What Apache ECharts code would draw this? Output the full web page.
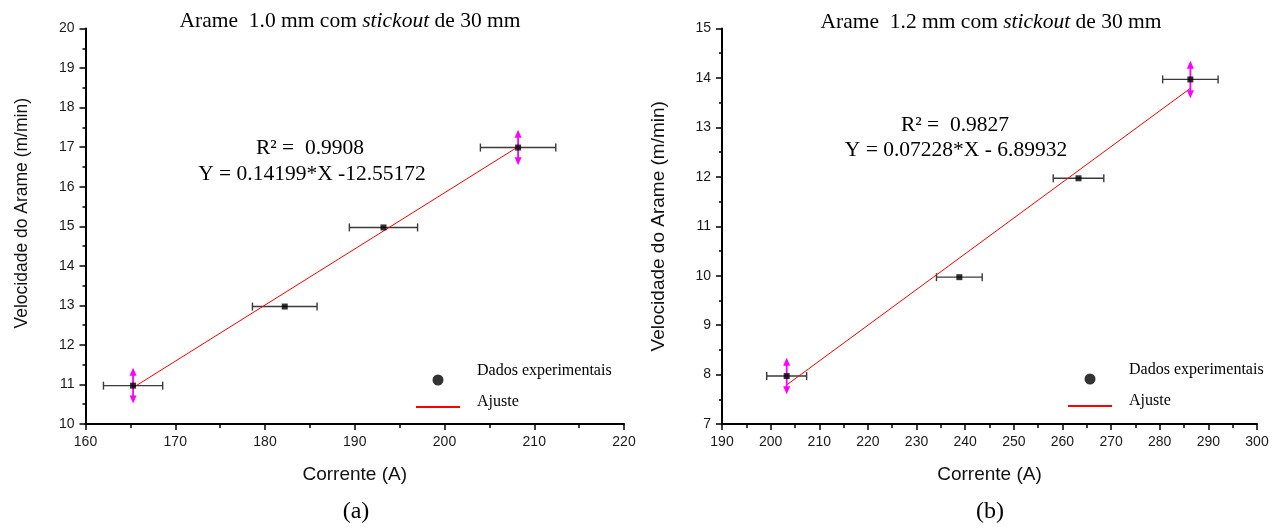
<!DOCTYPE html>
<html><head><meta charset="utf-8">
<script src="https://cdn.jsdelivr.net/npm/echarts@6/dist/echarts.min.js"></script>
<style>html,body{margin:0;padding:0;background:#fff}#c{width:1284px;height:529px}</style>
</head><body><div id="c"></div>
<script>
// ---- Chart (a): Arame 1.0 mm ----
const currentA = [165.3, 182.2, 193.2, 208.2];
const speedA = [10.97, 12.97, 14.97, 16.99];
const currentErrA = [3.3, 3.6, 3.8, 4.2];
const arrowIdxA = [0, 3];
const speedErrA = [0.45, 0.45];
const fitXA = [165.3, 208.2];
const fitYA = [10.92, 17.01];
const xRangeA = [160, 220];
const yRangeA = [10, 20];

// ---- Chart (b): Arame 1.2 mm ----
const currentB = [203.3, 238.8, 263.3, 286.3];
const speedB = [7.97, 9.97, 11.97, 13.97];
const currentErrB = [4.1, 4.7, 5.2, 5.7];
const arrowIdxB = [0, 3];
const speedErrB = [0.37, 0.38];
const fitXB = [203.3, 286.3];
const fitYB = [7.79, 13.79];
const xRangeB = [190, 300];
const yRangeB = [7, 15];

const titleA = ['Arame  1.0 mm com ', 'stickout', ' de 30 mm'];
const titleB = ['Arame  1.2 mm com ', 'stickout', ' de 30 mm'];
const eqA = ['R\u00b2 =  0.9908', 'Y = 0.14199*X -12.55172'];
const eqB = ['R\u00b2 =  0.9827', 'Y = 0.07228*X - 6.89932'];
const captions = ['(a)', '(b)'];
const legendNames = ['Dados experimentais', 'Ajuste'];
const xName = 'Corrente (A)';
const yName = 'Velocidade do Arame (m/min)';

const SERIF = 'Liberation Serif';
const SANS = 'Liberation Sans';

function xErrRender(params, api) {
  const x = api.value(0), y = api.value(1), e = api.value(2);
  const p1 = api.coord([x - e, y]), p2 = api.coord([x + e, y]);
  const st = { stroke: '#3a3a3a', lineWidth: 1.4 };
  return { type: 'group', children: [
    { type: 'line', shape: { x1: p1[0], y1: p1[1], x2: p2[0], y2: p2[1] }, style: st },
    { type: 'line', shape: { x1: p1[0], y1: p1[1] - 4, x2: p1[0], y2: p1[1] + 4 }, style: st },
    { type: 'line', shape: { x1: p2[0], y1: p2[1] - 4, x2: p2[0], y2: p2[1] + 4 }, style: st }
  ]};
}
function yArrowRender(params, api) {
  const x = api.value(0), y = api.value(1), e = api.value(2);
  const t = api.coord([x, y + e]), b = api.coord([x, y - e]);
  const c = '#ff00ff';
  return { type: 'group', children: [
    { type: 'line', shape: { x1: t[0], y1: t[1] + 3, x2: b[0], y2: b[1] - 3 }, style: { stroke: c, lineWidth: 1.8 } },
    { type: 'polygon', shape: { points: [[t[0], t[1]], [t[0] - 3.5, t[1] + 8], [t[0] + 3.5, t[1] + 8]] }, style: { fill: c } },
    { type: 'polygon', shape: { points: [[b[0], b[1]], [b[0] - 3.5, b[1] - 8], [b[0] + 3.5, b[1] - 8]] }, style: { fill: c } }
  ]};
}

function xAxisCfg(idx, r) {
  return {
    type: 'value', gridIndex: idx, min: r[0], max: r[1], interval: 10,
    name: xName, nameLocation: 'middle', nameGap: 41,
    nameTextStyle: { fontFamily: SANS, fontSize: 19, color: '#111' },
    axisLine: { lineStyle: { color: '#000', width: 2 } },
    axisTick: { length: 6, lineStyle: { color: '#000', width: 1.5 } },
    minorTick: { show: true, splitNumber: 2, length: 4, lineStyle: { color: '#000', width: 1.5 } },
    splitLine: { show: false },
    axisLabel: { fontFamily: SANS, fontSize: 14, color: '#1a1a1a', margin: 11 }
  };
}
function yAxisCfg(idx, r, nameSize, namePad) {
  return {
    type: 'value', gridIndex: idx, min: r[0], max: r[1], interval: 1,
    name: yName, nameLocation: 'middle', nameGap: 54, nameRotate: 90,
    nameTextStyle: { fontFamily: SANS, fontSize: nameSize, color: '#111', padding: namePad },
    axisLine: { show: true, lineStyle: { color: '#000', width: 2 } },
    axisTick: { show: true, length: 6, lineStyle: { color: '#000', width: 1.5 } },
    minorTick: { show: true, splitNumber: 2, length: 3, lineStyle: { color: '#000', width: 1.5 } },
    splitLine: { show: false },
    axisLabel: { fontFamily: SANS, fontSize: 14, color: '#1a1a1a', margin: 11 }
  };
}

function seriesFor(idx, xs, ys, xe, aIdx, ye, fx, fy) {
  return [
    { type: 'custom', xAxisIndex: idx, yAxisIndex: idx, renderItem: xErrRender, silent: true,
      data: xs.map((x, i) => [x, ys[i], xe[i]]), z: 2 },
    { type: 'line', name: legendNames[1], xAxisIndex: idx, yAxisIndex: idx, showSymbol: false, symbol: 'none',
      lineStyle: { color: '#ff0000', width: 1 }, itemStyle: { color: '#ff0000' },
      data: fx.map((x, i) => [x, fy[i]]), z: 3 },
    { type: 'custom', xAxisIndex: idx, yAxisIndex: idx, renderItem: yArrowRender, silent: true,
      data: aIdx.map((k, i) => [xs[k], ys[k], ye[i]]), z: 4 },
    { type: 'scatter', name: legendNames[0], xAxisIndex: idx, yAxisIndex: idx, symbol: 'rect', symbolSize: 6,
      itemStyle: { color: '#000' }, data: xs.map((x, i) => [x, ys[i]]), z: 5 }
  ];
}

function legendCfg(left, top) {
  return {
    left: left, top: top, orient: 'vertical', padding: 0, itemGap: -3,
    itemWidth: 44, itemHeight: 11, selectedMode: false,
    formatter: function (name) { return name === legendNames[0] ? name + '\n{s1| }' : name + '\n{s2| }'; },
    textStyle: { fontFamily: SERIF, fontSize: 16, color: '#000', lineHeight: 16, padding: [0, 0, 0, 12],
      rich: { s1: { fontSize: 4, lineHeight: 18 }, s2: { fontSize: 4, lineHeight: 10 } } },
    data: [
      { name: legendNames[0], icon: 'circle', itemStyle: { color: '#000' } },
      { name: legendNames[1], icon: 'path://M0,0L44,0L44,2L0,2Z' }
    ]
  };
}

function txt(x, y, text, size, rich) {
  const o = { type: 'text', x: x, y: y, style: { text: text, align: 'center', verticalAlign: 'middle',
    fontFamily: SERIF, fontSize: size, fill: '#000' } };
  if (rich) o.style.rich = rich;
  return o;
}
const titleRich = {
  n: { fontFamily: SERIF, fontSize: 21.5, color: '#000' },
  i: { fontFamily: SERIF, fontSize: 21.5, color: '#000', fontStyle: 'italic' }
};
function titleText(parts) { return '{n|' + parts[0] + '}{i|' + parts[1] + '}{n|' + parts[2] + '}'; }

const chart = echarts.init(document.getElementById('c'), null, { renderer: 'canvas' });
chart.setOption({
  backgroundColor: '#fff',
  animation: false,
  grid: [
    { left: 85.5, right: 660, top: 28.5, bottom: 105 },
    { left: 722, right: 27, top: 28.5, bottom: 105 }
  ],
  xAxis: [xAxisCfg(0, xRangeA), xAxisCfg(1, xRangeB)],
  yAxis: [yAxisCfg(0, yRangeA, 17.5, [0, 0, 0, 26]), yAxisCfg(1, yRangeB, 19, 0)],
  legend: [legendCfg(416, 363), legendCfg(1068, 362)],
  series: seriesFor(0, currentA, speedA, currentErrA, arrowIdxA, speedErrA, fitXA, fitYA)
    .concat(seriesFor(1, currentB, speedB, currentErrB, arrowIdxB, speedErrB, fitXB, fitYB)),
  graphic: [
    txt(350, 21, titleText(titleA), 21.5, titleRich),
    txt(991, 22, titleText(titleB), 21.5, titleRich),
    txt(310, 148, eqA[0], 21.5),
    txt(312, 174, eqA[1], 21.5),
    txt(955, 125, eqB[0], 21.5),
    txt(956, 150, eqB[1], 21.5),
    txt(356, 512, captions[0], 24),
    txt(990, 512, captions[1], 24)
  ]
});
</script></body></html>
